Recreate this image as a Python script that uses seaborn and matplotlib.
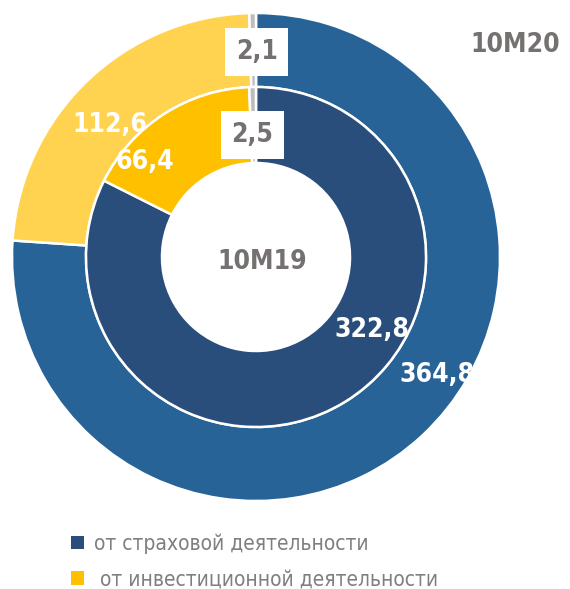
import matplotlib
matplotlib.use("Agg")
import matplotlib.pyplot as plt
import seaborn as sns
from matplotlib import font_manager
from matplotlib.font_manager import FontProperties
from matplotlib.ft2font import FT2Font
from matplotlib.patches import Patch

# Data
categories = ["от страховой деятельности", " от инвестиционной деятельности", "прочее"]
outer_values = [364.8, 112.6, 2.1]   # 10M20
inner_values = [322.8, 66.4, 2.5]    # 10M19
outer_labels = ["364,8", "112,6", "2,1"]
inner_labels = ["322,8", "66,4", "2,5"]
outer_name = "10M20"
inner_name = "10M19"

outer_colors = ["#286398", "#FFD34F", "#BDBDBD"]
inner_colors = ["#2A4E7B", "#FFC000", "#BDBDBD"]
gray_text = "#767171"

sns.set_theme(style="white")
plt.rcParams['font.family'] = ['Roboto', 'DejaVu Sans']


# look for a condensed sans face that also has cyrillic
def find_narrow(bold):
    for f in font_manager.fontManager.ttflist:
        fn = f.fname.lower()
        if "sans" not in fn or not ("condensed" in fn or "narrow" in fn):
            continue
        if "italic" in fn or "oblique" in fn or "semi" in fn or "extra" in fn or "light" in fn:
            continue
        if ("bold" in fn) != bold:
            continue
        try:
            if ord("д") not in FT2Font(f.fname).get_charmap():
                continue
        except Exception:
            continue
        return f.fname
    return None


bold_file = find_narrow(True)
reg_file = find_narrow(False)
if bold_file:
    num_fp = FontProperties(fname=bold_file, size=19)
else:
    num_fp = FontProperties(family=['Roboto', 'DejaVu Sans'], weight="bold", size=18)
if reg_file:
    leg_fp = FontProperties(fname=reg_file, size=15)
else:
    leg_fp = FontProperties(family=['Roboto', 'DejaVu Sans'], size=14)

fig = plt.figure(figsize=(5.7, 5.89), dpi=100)
ax = fig.add_axes([0, 0, 1, 1])

R = 244.0  # outer radius in pixels
cx, cy = 256.0, 257.0

wp = dict(edgecolor="white", linewidth=1.8)
ax.pie(outer_values, radius=1.0, colors=outer_colors, startangle=90, counterclock=False,
       wedgeprops=dict(width=74 / R, **wp))
ax.pie(inner_values, radius=170 / R, colors=inner_colors, startangle=90, counterclock=False,
       wedgeprops=dict(width=76 / R, **wp))

ax.set_xlim(-cx / R, (570 - cx) / R)
ax.set_ylim(-(589 - cy) / R, cy / R)
ax.set_aspect("auto")
ax.axis("off")

num_kw = dict(fontproperties=num_fp, ha="center", va="center")
box = dict(boxstyle="square,pad=0.4", fc="white", ec="none")
# label positions (axes units, relative to centre)
outer_pos = [(0.74, -0.484), (-0.598, 0.541), (0.004, 0.840)]
inner_pos = [(0.475, -0.299), (-0.455, 0.389), (-0.016, 0.500)]
for i, (x, y) in enumerate(outer_pos):
    if i == 2:
        ax.text(x, y, outer_labels[i], color=gray_text, bbox=box, **num_kw)
    else:
        ax.text(x, y, outer_labels[i], color="white", **num_kw)
for i, (x, y) in enumerate(inner_pos):
    if i == 2:
        ax.text(x, y, inner_labels[i], color=gray_text, bbox=box, **num_kw)
    else:
        ax.text(x, y, inner_labels[i], color="white", **num_kw)

ax.text(1.061, 0.869, outer_name, color=gray_text, **num_kw)
ax.text(0.025, -0.02, inner_name, color=gray_text, **num_kw)

handles = [Patch(facecolor=inner_colors[0], edgecolor="none"),
           Patch(facecolor=inner_colors[1], edgecolor="none")]
leg = fig.legend(handles, categories[:2], loc="upper left", bbox_to_anchor=(0.11, 0.109),
                 frameon=False, prop=leg_fp, handlelength=0.6, handleheight=0.6,
                 handletextpad=0.5, labelspacing=0.75, borderaxespad=0)
for t in leg.get_texts():
    t.set_color("#7F7F7F")

plt.savefig("out.png", dpi=100)
